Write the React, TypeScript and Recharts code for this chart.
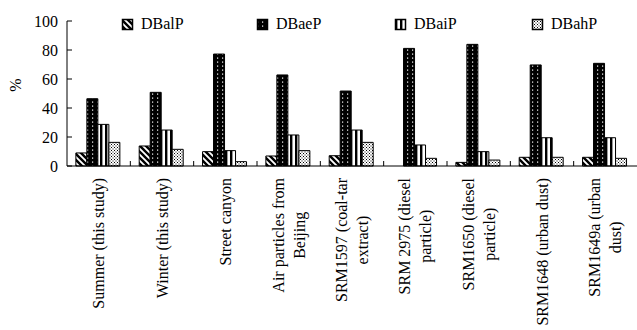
import React from 'react';
import { BarChart, Bar, XAxis, YAxis, Legend } from 'recharts';

const categories = [
  'Summer (this study)',
  'Winter (this study)',
  'Street canyon',
  'Air particles from\nBeijing',
  'SRM1597 (coal-tar\nextract)',
  'SRM 2975 (diesel\nparticle)',
  'SRM1650 (diesel\nparticle)',
  'SRM1648 (urban dust)',
  'SRM1649a (urban\ndust)',
];
const seriesNames = ['DBalP', 'DBaeP', 'DBaiP', 'DBahP'];
const DBalP = [9, 13.8, 9.9, 6.9, 7.1, 0, 2.5, 6, 6];
const DBaeP = [46.4, 50.8, 77.2, 62.8, 51.7, 81.1, 83.9, 69.7, 70.8];
const DBaiP = [28.7, 24.8, 10.6, 21.4, 24.8, 14.5, 9.9, 19.5, 19.5];
const DBahP = [16.3, 11.5, 3, 10.6, 16.3, 5.3, 4.1, 6, 5.3];
const yTicks = [0, 20, 40, 60, 80, 100];

const data = categories.map((c, i) => ({
  name: c,
  DBalP: DBalP[i],
  DBaeP: DBaeP[i],
  DBaiP: DBaiP[i],
  DBahP: DBahP[i],
}));

const FONT = "'Liberation Serif', 'Times New Roman', serif";
const FS = 16;
const txtStyle = { fontFamily: FONT, fontSize: FS };
const patternIds: Record<string, string> = {
  DBalP: 'pDiag',
  DBaeP: 'pDotsW',
  DBaiP: 'pVStripe',
  DBahP: 'pStipple',
};

let ctx: CanvasRenderingContext2D | null = null;
function textWidth(s: string): number {
  if (!ctx) ctx = document.createElement('canvas').getContext('2d');
  if (!ctx) return s.length * FS * 0.45;
  ctx.font = `${FS}px 'Liberation Serif'`;
  return ctx.measureText(s).width;
}

const Patterns = () => (
  <defs>
    <pattern id="pDiag" patternUnits="userSpaceOnUse" width="6" height="6">
      <rect width="6" height="6" fill="#fff" />
      <path d="M0,0 L6,6 M-1,5 L1,7 M5,-1 L7,1" stroke="#000" strokeWidth="2.4" />
    </pattern>
    <pattern id="pDotsW" patternUnits="userSpaceOnUse" width="5" height="4">
      <rect width="5" height="4" fill="#000" />
      <rect x="2" y="1.5" width="1.2" height="1.2" fill="#fff" />
    </pattern>
    <pattern id="pVStripe" patternUnits="userSpaceOnUse" width="5" height="4">
      <rect width="5" height="4" fill="#fff" />
      <rect x="0" y="0" width="2.4" height="4" fill="#000" />
    </pattern>
    <pattern id="pStipple" patternUnits="userSpaceOnUse" width="3" height="3">
      <rect width="3" height="3" fill="#fff" />
      <rect x="0" y="0" width="1" height="1" fill="#000" />
      <rect x="1.5" y="1.5" width="1" height="1" fill="#000" />
    </pattern>
  </defs>
);

const CatTick = (props: any) => {
  const { x, y, payload, index } = props;
  const off = payload && typeof payload.offset === 'number' ? payload.offset : 31.67;
  const lines = String(payload.value).split('\n');
  const maxL = Math.max(...lines.map(textWidth));
  const spacing = 21;
  const n = lines.length;
  return (
    <g>
      {index > 0 && (
        <line x1={x - off} x2={x - off} y1={y} y2={y - 5} stroke="#000" strokeWidth={1} />
      )}
      <g transform={`translate(${x},${y + 12}) rotate(-90)`}>
        {lines.map((l, i) => (
          <text
            key={i}
            x={-maxL / 2}
            y={(i - (n - 1) / 2) * spacing + 5.5}
            textAnchor="middle"
            fontFamily={FONT}
            fontSize={FS}
            style={txtStyle}
            fill="#000"
          >
            {l}
          </text>
        ))}
      </g>
    </g>
  );
};

const YTick = (props: any) => {
  const { x, y, payload } = props;
  return (
    <g>
      <line x1={x} x2={x + 5} y1={y} y2={y} stroke="#000" strokeWidth={1} />
      <text
        x={x - 9}
        y={y + 5.5}
        textAnchor="end"
        fontFamily={FONT}
        fontSize={FS}
        style={txtStyle}
        fill="#000"
      >
        {payload.value}
      </text>
    </g>
  );
};

const legendX = [122, 257, 395, 532];
const LegendContent = () => (
  <svg width={637} height={40} style={{ display: 'block' }}>
    {seriesNames.map((s, i) => (
      <g key={s}>
        <rect
          x={legendX[i] + 0.5}
          y={19.5}
          width={10}
          height={10}
          fill={`url(#${patternIds[s]})`}
          stroke="#000"
          strokeWidth={1.5}
        />
        <text
          x={legendX[i] + 19}
          y={29}
          fontFamily={FONT}
          fontSize={FS}
          style={txtStyle}
          fill="#000"
        >
          {s}
        </text>
      </g>
    ))}
  </svg>
);

export default function App() {
  return (
    <div
      style={{
        position: 'absolute',
        left: 0,
        top: 0,
        width: 637,
        height: 330,
        background: '#fff',
        fontFamily: FONT,
      }}
    >
      <BarChart
        width={637}
        height={330}
        data={data}
        margin={{ top: 21, right: 0, bottom: 0, left: 0 }}
        barCategoryGap="14%"
        barGap={0}
      >
        <Patterns />
        <XAxis
          dataKey="name"
          height={164}
          interval={0}
          tickLine={false}
          tickSize={0}
          tickMargin={0}
          axisLine={{ stroke: '#000', strokeWidth: 1 }}
          tick={(p: any) => <CatTick {...p} />}
        />
        <YAxis
          width={67}
          domain={[0, 100]}
          ticks={yTicks}
          interval={0}
          tickLine={false}
          tickSize={0}
          tickMargin={0}
          axisLine={{ stroke: '#000', strokeWidth: 1 }}
          tick={(p: any) => <YTick {...p} />}
          label={{
            content: () => (
              <text
                transform="translate(21,85) rotate(-90)"
                textAnchor="middle"
                fontFamily={FONT}
                fontSize={FS}
                style={txtStyle}
                fill="#000"
              >
                %
              </text>
            ),
          }}
        />
        <Legend
          layout="horizontal"
          verticalAlign="middle"
          align="center"
          wrapperStyle={{ top: 0, left: 0, width: 637, height: 40 }}
          content={() => <LegendContent />}
        />
        {seriesNames.map((s) => (
          <Bar
            key={s}
            dataKey={s}
            fill={`url(#${patternIds[s]})`}
            stroke="#000"
            strokeWidth={1}
            isAnimationActive={false}
          />
        ))}
      </BarChart>
    </div>
  );
}
